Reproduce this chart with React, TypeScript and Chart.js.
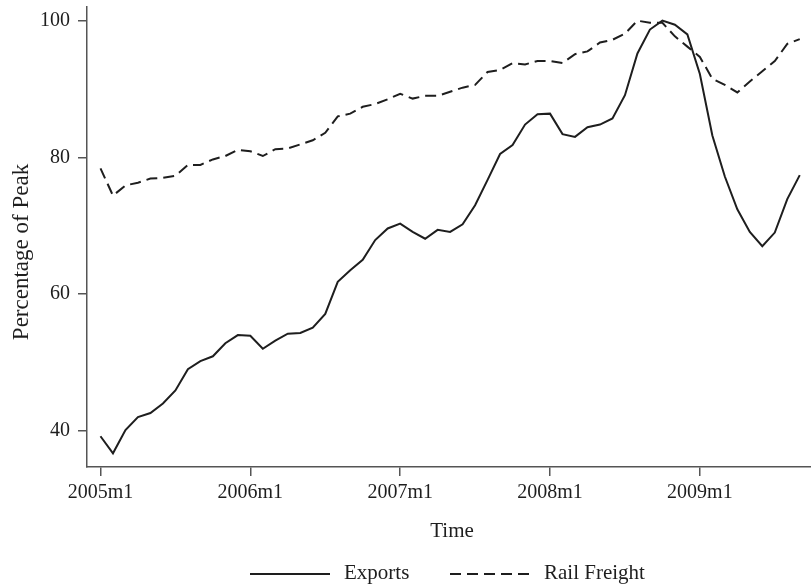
import React, { useEffect, useRef } from "react";
import { Chart, registerables } from "chart.js";

Chart.register(...registerables);

const exportsSeries = [
  39.2, 36.7, 40.1, 42.0, 42.6, 44.0, 45.9, 49.0, 50.2, 50.9, 52.8, 54.0,
  53.9, 52.0, 53.2, 54.2, 54.3, 55.1, 57.1, 61.8, 63.5, 65.0, 67.9, 69.6,
  70.3, 69.1, 68.1, 69.4, 69.1, 70.2, 73.0, 76.7, 80.5, 81.8, 84.8, 86.3,
  86.4, 83.4, 83.0, 84.4, 84.8, 85.7, 89.1, 95.2, 98.7, 100.0, 99.4, 98.0,
  92.2, 83.2, 77.2, 72.4, 69.1, 67.0, 69.0, 73.9, 77.4,
];

const railFreightSeries = [
  78.4, 74.4, 75.9, 76.3, 76.9, 77.0, 77.3, 78.9, 78.9, 79.7, 80.2, 81.1,
  80.9, 80.2, 81.2, 81.3, 81.9, 82.5, 83.6, 86.0, 86.4, 87.4, 87.8, 88.5,
  89.3, 88.6, 89.0, 89.0, 89.6, 90.2, 90.6, 92.5, 92.8, 93.8, 93.6, 94.1,
  94.1, 93.8, 95.1, 95.5, 96.8, 97.2, 98.1, 100.0, 99.7, 99.7, 97.7, 96.2,
  94.7, 91.5, 90.6, 89.5, 91.1, 92.6, 94.1, 96.6, 97.3,
];

const xTickIndex = [0, 12, 24, 36, 48];
const xTickLabels = ["2005m1", "2006m1", "2007m1", "2008m1", "2009m1"];
const yTickValues = [40, 60, 80, 100];

const seriesNames = ["Exports", "Rail Freight"];
const yTitle = "Percentage of Peak";
const xTitle = "Time";

const FONT = "'Liberation Serif', 'Times New Roman', serif";
const INK = "#1e1e1e";

const overlayPlugin = {
  id: "overlay",
  afterDraw(chart: any) {
    const ctx = chart.ctx;
    ctx.save();
    ctx.fillStyle = INK;
    ctx.textBaseline = "middle";
    ctx.save();
    ctx.translate(22, 252);
    ctx.rotate(-Math.PI / 2);
    ctx.textAlign = "center";
    ctx.font = `23px ${FONT}`;
    ctx.fillText(yTitle, 0, 0);
    ctx.restore();
    ctx.textAlign = "center";
    ctx.font = `21px ${FONT}`;
    ctx.fillText(xTitle, 452, 531);
    ctx.strokeStyle = INK;
    ctx.lineWidth = 2;
    ctx.beginPath();
    ctx.setLineDash([]);
    ctx.moveTo(250, 574);
    ctx.lineTo(330, 574);
    ctx.stroke();
    ctx.beginPath();
    ctx.setLineDash([11, 6]);
    ctx.moveTo(450, 574);
    ctx.lineTo(530, 574);
    ctx.stroke();
    ctx.setLineDash([]);
    ctx.textAlign = "left";
    ctx.font = `21px ${FONT}`;
    ctx.fillText(seriesNames[0], 344, 573);
    ctx.fillText(seriesNames[1], 544, 573);
    ctx.restore();
  },
};

export default function App() {
  const ref = useRef<HTMLCanvasElement | null>(null);

  useEffect(() => {
    if (!ref.current) return;
    const chart = new Chart(ref.current, {
      type: "line",
      data: {
        datasets: [
          {
            label: seriesNames[0],
            data: exportsSeries.map((v, i) => ({ x: i, y: v })),
            borderColor: INK,
            borderWidth: 2,
            pointRadius: 0,
            tension: 0,
            fill: false,
          },
          {
            label: seriesNames[1],
            data: railFreightSeries.map((v, i) => ({ x: i, y: v })),
            borderColor: INK,
            borderWidth: 2,
            borderDash: [11, 6],
            pointRadius: 0,
            tension: 0,
            fill: false,
          },
        ],
      },
      options: {
        animation: false,
        responsive: false,
        devicePixelRatio: 1,
        layout: { padding: { top: 7, right: 0, left: 0, bottom: 0 } },
        plugins: {
          legend: { display: false },
          tooltip: { enabled: false },
        },
        scales: {
          x: {
            type: "linear",
            min: -1.08,
            max: 56.9,
            afterBuildTicks: (s: any) => {
              s.ticks = xTickIndex.map((v) => ({ value: v }));
            },
            afterFit: (s: any) => {
              s.height = 120;
              s.paddingLeft = 0;
              s.paddingRight = 0;
            },
            ticks: {
              autoSkip: false,
              maxRotation: 0,
              padding: 5,
              color: INK,
              font: { family: FONT, size: 20 },
              callback: (v: any) => {
                const k = xTickIndex.indexOf(Number(v));
                return k >= 0 ? xTickLabels[k] : "";
              },
            },
            grid: {
              display: true,
              drawOnChartArea: false,
              drawTicks: true,
              tickLength: 9,
              color: "#555",
              lineWidth: 1.5,
            },
            border: { display: true, color: "#555", width: 1.5 },
          },
          y: {
            type: "linear",
            min: 34.7,
            max: 102,
            afterBuildTicks: (s: any) => {
              s.ticks = yTickValues.map((v) => ({ value: v }));
            },
            afterFit: (s: any) => {
              s.width = 87;
              s.paddingTop = 0;
              s.paddingBottom = 0;
            },
            ticks: {
              padding: 8,
              color: INK,
              font: { family: FONT, size: 20 },
            },
            grid: {
              display: true,
              drawOnChartArea: false,
              drawTicks: true,
              tickLength: 9,
              color: "#555",
              lineWidth: 1.5,
            },
            border: { display: true, color: "#555", width: 1.5 },
          },
        },
      },
      plugins: [overlayPlugin],
    } as any);
    return () => chart.destroy();
  }, []);

  return (
    <div
      style={{
        position: "fixed",
        left: 0,
        top: 0,
        width: 811,
        height: 587,
        background: "#fff",
      }}
    >
      <canvas ref={ref} width={811} height={587} style={{ width: 811, height: 587 }} />
    </div>
  );
}
